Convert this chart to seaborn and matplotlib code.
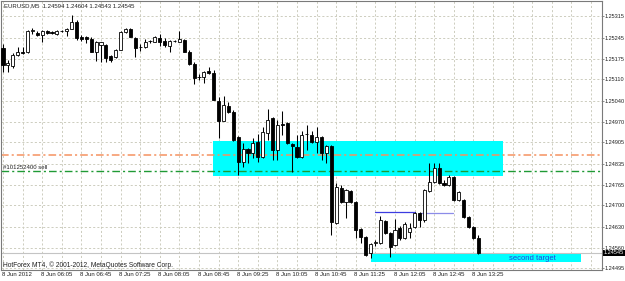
import matplotlib
matplotlib.use("Agg")
import matplotlib.pyplot as plt
import matplotlib.transforms as mtrans
from matplotlib.patches import Rectangle
import numpy as np
import pandas as pd
import seaborn as sns

# ---------------- data (EURUSD M5, 8 Jun 2012) ----------------
opens = [1.25211, 1.25156, 1.25153, 1.25188, 1.25198, 1.25198, 1.25265, 1.25260, 1.25253, 1.25266,
         1.25263, 1.25257, 1.25266, 1.25266, 1.25273, 1.25296, 1.25247, 1.25247, 1.25240, 1.25198,
         1.25221, 1.25221, 1.25185, 1.25182, 1.25205, 1.25263, 1.25273, 1.25244, 1.25214, 1.25214,
         1.25234, 1.25231, 1.25244, 1.25234, 1.25218, 1.25234, 1.25231, 1.25237, 1.25198, 1.25159,
         1.25117, 1.25117, 1.25136, 1.25130, 1.25039, 1.24974, 1.25023, 1.25003, 1.24922, 1.24841,
         1.24883, 1.24870, 1.24906, 1.24857, 1.24935, 1.24984, 1.24880, 1.24964, 1.24967, 1.24899,
         1.24889, 1.24857, 1.24932, 1.24928, 1.24906, 1.24922, 1.24870, 1.24893, 1.24642, 1.24756,
         1.24711, 1.24746, 1.24711, 1.24623, 1.24597, 1.24545, 1.24577, 1.24577, 1.24649, 1.24610,
         1.24571, 1.24626, 1.24594, 1.24613, 1.24629, 1.24675, 1.24652, 1.24746, 1.24776, 1.24821,
         1.24772, 1.24766, 1.24792, 1.24717, 1.24717, 1.24662, 1.24629, 1.24594]
highs = [1.25224, 1.25172, 1.25195, 1.25214, 1.25214, 1.25270, 1.25276, 1.25266, 1.25270, 1.25270,
         1.25266, 1.25270, 1.25270, 1.25276, 1.25318, 1.25302, 1.25253, 1.25250, 1.25247, 1.25234,
         1.25231, 1.25224, 1.25188, 1.25208, 1.25266, 1.25276, 1.25276, 1.25247, 1.25224, 1.25240,
         1.25237, 1.25250, 1.25257, 1.25244, 1.25237, 1.25237, 1.25266, 1.25240, 1.25205, 1.25166,
         1.25127, 1.25136, 1.25149, 1.25140, 1.25052, 1.25055, 1.25036, 1.25010, 1.24925, 1.24902,
         1.24886, 1.24919, 1.24932, 1.24954, 1.25013, 1.24987, 1.24977, 1.25006, 1.24971, 1.24902,
         1.24928, 1.24941, 1.24961, 1.24941, 1.24954, 1.24925, 1.24896, 1.24896, 1.24772, 1.24766,
         1.24753, 1.24750, 1.24714, 1.24626, 1.24600, 1.24577, 1.24587, 1.24665, 1.24652, 1.24613,
         1.24655, 1.24633, 1.24646, 1.24642, 1.24678, 1.24678, 1.24753, 1.24837, 1.24837, 1.24837,
         1.24782, 1.24798, 1.24795, 1.24746, 1.24720, 1.24665, 1.24633, 1.24604]
lows = [1.25133, 1.25133, 1.25146, 1.25185, 1.25192, 1.25195, 1.25257, 1.25250, 1.25231, 1.25257,
        1.25257, 1.25253, 1.25263, 1.25250, 1.25273, 1.25237, 1.25234, 1.25227, 1.25198, 1.25169,
        1.25166, 1.25166, 1.25166, 1.25179, 1.25205, 1.25260, 1.25247, 1.25182, 1.25201, 1.25211,
        1.25227, 1.25231, 1.25218, 1.25214, 1.25198, 1.25231, 1.25231, 1.25198, 1.25156, 1.25094,
        1.25107, 1.25097, 1.25127, 1.25042, 1.24919, 1.24974, 1.25000, 1.24909, 1.24798, 1.24824,
        1.24837, 1.24854, 1.24841, 1.24854, 1.24912, 1.24847, 1.24847, 1.24928, 1.24899, 1.24808,
        1.24854, 1.24854, 1.24880, 1.24902, 1.24870, 1.24847, 1.24837, 1.24603, 1.24639, 1.24707,
        1.24659, 1.24707, 1.24594, 1.24577, 1.24535, 1.24529, 1.24568, 1.24574, 1.24607, 1.24532,
        1.24568, 1.24587, 1.24590, 1.24594, 1.24626, 1.24629, 1.24646, 1.24743, 1.24772, 1.24769,
        1.24763, 1.24763, 1.24714, 1.24714, 1.24659, 1.24626, 1.24590, 1.24543]
closes = [1.25156, 1.25162, 1.25188, 1.25198, 1.25196, 1.25266, 1.25268, 1.25253, 1.25266, 1.25260,
          1.25260, 1.25266, 1.25265, 1.25273, 1.25296, 1.25244, 1.25240, 1.25240, 1.25198, 1.25231,
          1.25231, 1.25179, 1.25172, 1.25205, 1.25263, 1.25273, 1.25247, 1.25211, 1.25213, 1.25231,
          1.25233, 1.25247, 1.25231, 1.25221, 1.25234, 1.25233, 1.25240, 1.25198, 1.25159, 1.25114,
          1.25116, 1.25133, 1.25130, 1.25042, 1.24974, 1.25026, 1.25003, 1.24912, 1.24841, 1.24883,
          1.24870, 1.24902, 1.24857, 1.24938, 1.24977, 1.24880, 1.24961, 1.24962, 1.24902, 1.24893,
          1.24857, 1.24928, 1.24930, 1.24906, 1.24922, 1.24870, 1.24893, 1.24646, 1.24759, 1.24711,
          1.24750, 1.24711, 1.24620, 1.24597, 1.24538, 1.24574, 1.24581, 1.24652, 1.24610, 1.24564,
          1.24620, 1.24594, 1.24639, 1.24626, 1.24675, 1.24652, 1.24750, 1.24776, 1.24821, 1.24772,
          1.24766, 1.24792, 1.24717, 1.24743, 1.24662, 1.24629, 1.24594, 1.24545]

time_label_bars = [0, 8, 16, 24, 32, 40, 48, 56, 64, 72, 80, 88, 96]
time_labels = ["8 Jun 2012", "8 Jun 06:05", "8 Jun 06:45", "8 Jun 07:25", "8 Jun 08:05",
               "8 Jun 08:45", "8 Jun 09:25", "8 Jun 10:05", "8 Jun 10:45", "8 Jun 11:25",
               "8 Jun 12:05", "8 Jun 12:45", "8 Jun 13:25"]
price_ticks = [1.24495, 1.24560, 1.24630, 1.24700, 1.24765, 1.24835, 1.24905,
               1.24970, 1.25040, 1.25110, 1.25175, 1.25245, 1.25315]
price_tick_labels = ["%.5f" % p for p in price_ticks]

title_text = "EURUSD,M5  1.24594 1.24604 1.24543 1.24545"
footer_text = "HotForex MT4, \u00a9 2001-2012, MetaQuotes Software Corp."
bid_price = 1.24545

# objects drawn on chart
zone_x = [42.9, 102.0]
zone_y = [1.24795, 1.24909]
target_x = [75.1, 118.0]
target_y = [1.24516, 1.24542]
target_label = "second target"
orange_level = 1.24864
sell_level = 1.24810
sell_label = "#101252400 sell"
blue_seg1_x = [75.9, 84.1]
blue_seg1_y = 1.24678
blue_seg2_x = [85.1, 91.8]
blue_seg2_y = 1.24675

# ---------------- figure ----------------
sns.set_theme(style="white")
plt.rcParams['font.family'] = ['Liberation Sans', 'DejaVu Sans']
plt.rcParams['lines.scale_dashes'] = False

df = pd.DataFrame({"open": opens, "high": highs, "low": lows, "close": closes})
df["bar"] = np.arange(len(df))

W, H = 625, 281
fig = plt.figure(figsize=(W / 100, H / 100), dpi=100)
fig.patch.set_facecolor("white")
ax_l, ax_r, ax_t, ax_b = 1, 602, 1, 270
ax = fig.add_axes([ax_l / W, (H - ax_b) / H, (ax_r - ax_l) / W, (ax_b - ax_t) / H])
ax.set_facecolor("white")

x_min = (ax_l - 3) / 4.9
x_max = (ax_r - 3) / 4.9
ax.set_xlim(x_min, x_max)
ax.set_ylim(1.244895, 1.253638)

# grid
grid_col = "#cdcdbf"
for p in price_ticks:
    ax.axhline(p, color=grid_col, lw=0.7, ls=(0, (1.5, 1.5)), zorder=0)
for gx in range(0, int(x_max) + 1, 4):
    ax.axvline(gx, color=grid_col, lw=0.7, ls=(0, (1.5, 1.5)), zorder=0)

# rectangles
ax.add_patch(Rectangle((zone_x[0], zone_y[0]), zone_x[1] - zone_x[0], zone_y[1] - zone_y[0],
                       facecolor="#00ffff", edgecolor="none", zorder=1))
ax.add_patch(Rectangle((target_x[0], target_y[0]), target_x[1] - target_x[0], target_y[1] - target_y[0],
                       facecolor="#00ffff", edgecolor="none", zorder=1))

# level lines
ax.axhline(orange_level, color="#f59260", lw=1.1, ls=(0, (5.5, 2.2, 1.5, 2.2)), zorder=2)
ax.axhline(sell_level, color="#1f9a35", lw=1.0, ls=(0, (5.5, 2.2, 1.5, 2.2)), zorder=2)
ax.axhline(bid_price, color="#c4c4c4", lw=0.8, zorder=2)

ax.plot(blue_seg1_x, [blue_seg1_y] * 2, color="#3c3ce0", lw=0.9, zorder=2)
ax.plot(blue_seg2_x, [blue_seg2_y] * 2, color="#8c8ce8", lw=0.9, zorder=2)

# candles
ax.vlines(df["bar"], df["low"], df["high"], color="black", lw=0.75, zorder=3)
up = df["close"] >= df["open"]
body_lo = np.minimum(df["open"], df["close"])
body_h = np.maximum(np.abs(df["close"] - df["open"]), 0.000012)
ax.bar(df["bar"][up], body_h[up], bottom=body_lo[up], width=0.62,
       color="white", edgecolor="black", linewidth=0.6, zorder=4)
ax.bar(df["bar"][~up], body_h[~up], bottom=body_lo[~up], width=0.62,
       color="black", edgecolor="black", linewidth=0.6, zorder=4)

# texts
fs = 4.3
ax.text((4 - ax_l) / (ax_r - ax_l), (ax_b - 6) / (ax_b - ax_t), title_text, transform=ax.transAxes,
        fontsize=fs, color="#202020", ha="left", va="center")
ax.text((3 - ax_l) / (ax_r - ax_l), (ax_b - 265) / (ax_b - ax_t), footer_text, transform=ax.transAxes,
        fontsize=4.8, color="#202020", ha="left", va="center")
ax.text((3 - ax_l) / (ax_r - ax_l), sell_level + 0.00014, sell_label,
        transform=mtrans.blended_transform_factory(ax.transAxes, ax.transData),
        fontsize=fs, color="#202020", ha="left", va="center", zorder=5)
ax.text((target_x[0] + target_x[1]) / 2 + 11.5, (target_y[0] + target_y[1]) / 2 - 0.00002, target_label,
        fontsize=5.5, color="#2244dd", ha="center", va="center", zorder=5)

# x labels
bt = mtrans.blended_transform_factory(ax.transData, ax.transAxes)
for b, lab in zip(time_label_bars, time_labels):
    ax.text(b - 0.3, -(274 - ax_b) / (ax_b - ax_t), lab, transform=bt, fontsize=fs,
            color="#202020", ha="left", va="center", clip_on=False)
ax.set_xticks(time_label_bars)
ax.set_xticklabels([])
ax.tick_params(axis="x", length=1.5, width=0.5, color="#606060", direction="out")

# y labels on right
yfs = 4.0
ax.yaxis.tick_right()
ax.set_yticks(price_ticks)
ax.set_yticklabels(price_tick_labels, fontsize=yfs, color="#202020")
ax.tick_params(axis="y", length=1.5, width=0.5, color="#606060", pad=0.6, direction="out")
ax.text(1.003, bid_price, "%.5f" % bid_price,
        transform=mtrans.blended_transform_factory(ax.transAxes, ax.transData),
        fontsize=yfs, color="white", ha="left", va="center", zorder=6, clip_on=False,
        bbox=dict(facecolor="black", edgecolor="none", pad=0.5))

for s in ax.spines.values():
    s.set_color("#7a7a7a")
    s.set_linewidth(0.8)
    s.set_visible(True)

fig.savefig("out.png", dpi=100, facecolor="white")
